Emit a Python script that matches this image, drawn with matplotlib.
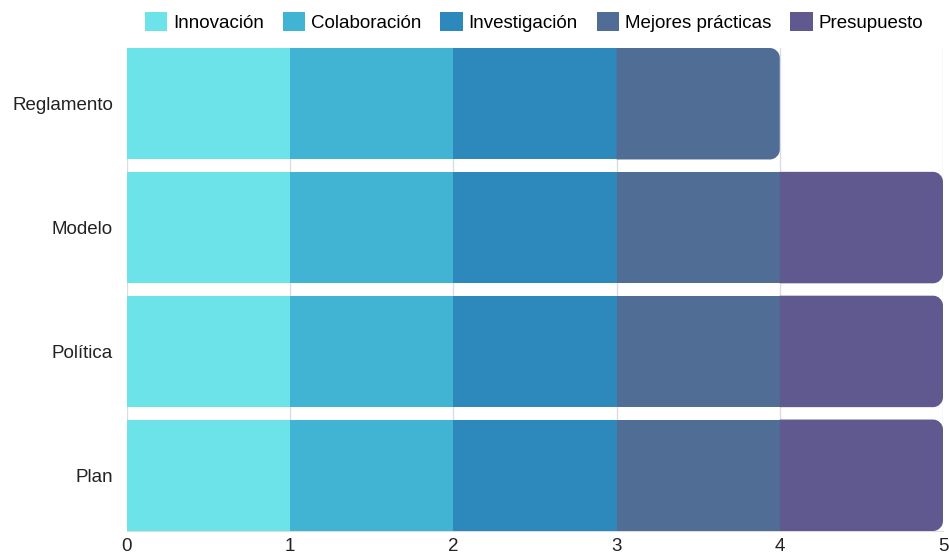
import matplotlib
matplotlib.use("Agg")
import matplotlib.pyplot as plt
from matplotlib.path import Path
from matplotlib.patches import PathPatch, Patch
import numpy as np

categories = ["Reglamento", "Modelo", "Política", "Plan"]
series_names = ["Innovación", "Colaboración", "Investigación", "Mejores prácticas", "Presupuesto"]
series_values = {
    "Innovación":        [1, 1, 1, 1],
    "Colaboración":      [1, 1, 1, 1],
    "Investigación":     [1, 1, 1, 1],
    "Mejores prácticas": [1, 1, 1, 1],
    "Presupuesto":       [0, 1, 1, 1],
}
colors = ["#6be3e8", "#42b4d3", "#2d88bb", "#506e95", "#605990"]
xticks = [0, 1, 2, 3, 4, 5]

plt.rcParams['font.family'] = ['Liberation Sans', 'DejaVu Sans']
W, H = 949, 556
fig = plt.figure(figsize=(W / 100, H / 100), dpi=100)
ax = fig.add_axes([127 / W, 1 - 531 / H, (943 - 127) / W, (531 - 48) / H])

ypos = np.arange(len(categories))[::-1]
bh = 0.9
ax.set_xlim(0, 5)
ax.set_ylim(-0.45, 3.45)

# radius in data units (~10 px)
px_x = (943 - 127) / 5.0
px_y = (531 - 48) / 3.9
rx = 10 / px_x
ry = 10 / px_y

def rounded_right(x0, x1, yc, h):
    y0, y1 = yc - h / 2, yc + h / 2
    k = 0.5523
    verts = [
        (x0, y0), (x1 - rx, y0),
        (x1 - rx + rx * k, y0), (x1, y0 + ry - ry * k), (x1, y0 + ry),
        (x1, y1 - ry),
        (x1, y1 - ry + ry * k), (x1 - rx + rx * k, y1), (x1 - rx, y1),
        (x0, y1), (x0, y0),
    ]
    codes = [Path.MOVETO, Path.LINETO,
             Path.CURVE4, Path.CURVE4, Path.CURVE4,
             Path.LINETO,
             Path.CURVE4, Path.CURVE4, Path.CURVE4,
             Path.LINETO, Path.CLOSEPOLY]
    return Path(verts, codes)

left = np.zeros(len(categories))
vals = np.array([series_values[s] for s in series_names], dtype=float)
last_idx = [max(i for i in range(len(series_names)) if vals[i, j] > 0) for j in range(len(categories))]

for i, name in enumerate(series_names):
    v = vals[i]
    for j in range(len(categories)):
        if v[j] <= 0:
            continue
        if i == last_idx[j]:
            p = PathPatch(rounded_right(left[j], left[j] + v[j], ypos[j], bh),
                          facecolor=colors[i], edgecolor='none', zorder=3)
            ax.add_patch(p)
        else:
            ax.barh(ypos[j], v[j], left=left[j], height=bh, color=colors[i],
                    edgecolor='none', zorder=3)
    left += v

ax.set_yticks(ypos)
ax.set_yticklabels(categories, fontsize=13.5, color="#222222")
ax.set_xticks(xticks)
ax.set_xticklabels([str(t) for t in xticks], fontsize=13.5, color="#222222")
ax.tick_params(axis='both', length=0)
ax.tick_params(axis='y', pad=10)
ax.tick_params(axis='x', pad=5)
ax.grid(axis='x', color="#dddddd", linewidth=1, zorder=0)
for s in ['top', 'left', 'right']:
    ax.spines[s].set_visible(False)
ax.spines['bottom'].set_color("#dddddd")

handles = [Patch(facecolor=c, edgecolor='none') for c in colors]
fig.legend(handles, series_names, loc='center', bbox_to_anchor=(534 / W, 1 - 22 / H),
           ncol=5, frameon=False, fontsize=13.5, handlelength=1.2, handleheight=1.2,
           handletextpad=0.32, columnspacing=1.0, borderaxespad=0)

fig.savefig("out.png", dpi=100)
